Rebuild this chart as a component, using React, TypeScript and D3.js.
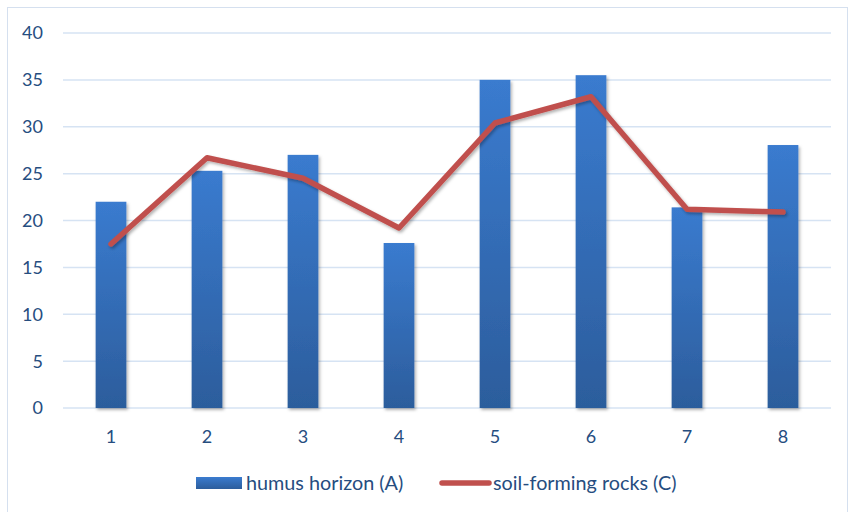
import React from "react";
import * as d3 from "d3";

const categories = ["1", "2", "3", "4", "5", "6", "7", "8"];
const humusValues = [22.0, 25.3, 27.0, 17.6, 35.0, 35.5, 21.4, 28.05];
const rockValues = [17.5, 26.7, 24.5, 19.2, 30.4, 33.2, 21.2, 20.9];
const yTicks = [0, 5, 10, 15, 20, 25, 30, 35, 40];
const seriesNames = ["humus horizon (A)", "soil-forming rocks (C)"];

const W = 848;
const H = 512;
const FONT = "Lato, 'Open Sans', sans-serif";
const TEXT_COLOR = "#264d7f";

export default function App() {
  const x = d3.scaleBand<string>().domain(categories).range([63, 831]).paddingInner(0.68).paddingOuter(0.34);
  const y = d3.scaleLinear().domain([0, 40]).range([408, 33]);
  const line = d3
    .line<number>()
    .x((_, i) => (x(categories[i]) as number) + x.bandwidth() / 2)
    .y((d) => y(d));

  return (
    <svg width={W} height={H} style={{ position: "absolute", left: 0, top: 0, background: "#fff" }}>
      <defs>
        <linearGradient id="barGrad" x1="0" y1="0" x2="0" y2="1">
          <stop offset="0%" stopColor="#3a7bcf" />
          <stop offset="100%" stopColor="#2c5d9c" />
        </linearGradient>
        <filter id="shadow" x="-30%" y="-10%" width="160%" height="130%">
          <feDropShadow dx="1.5" dy="2" stdDeviation="1.8" floodColor="#000" floodOpacity="0.3" />
        </filter>
      </defs>
      <rect x={7.5} y={7.5} width={840} height={510} fill="#fff" stroke="#d5e0ef" strokeWidth={1} />
      {yTicks.map((t) => (
        <g key={t}>
          <line x1={63} x2={831} y1={y(t)} y2={y(t)} stroke="#d6e3f3" strokeWidth={1.5} />
          <text x={43} y={y(t)} dy="0.36em" textAnchor="end" fontFamily={FONT} fontSize={18} fill={TEXT_COLOR}>
            {t}
          </text>
        </g>
      ))}
      {humusValues.map((v, i) => (
        <rect
          key={i}
          x={x(categories[i])}
          y={y(v)}
          width={x.bandwidth()}
          height={y(0) - y(v)}
          fill="url(#barGrad)"
          filter="url(#shadow)"
        />
      ))}
      <path
        d={line(rockValues) || ""}
        fill="none"
        stroke="#c0504d"
        strokeWidth={5.5}
        strokeLinejoin="round"
        strokeLinecap="round"
        filter="url(#shadow)"
      />
      {categories.map((c) => (
        <text
          key={c}
          x={(x(c) as number) + x.bandwidth() / 2}
          y={437}
          dy="0.36em"
          textAnchor="middle"
          fontFamily={FONT}
          fontSize={18}
          fill={TEXT_COLOR}
        >
          {c}
        </text>
      ))}
      <g>
        <rect x={196} y={477} width={46} height={12} fill="url(#barGrad)" />
        <text x={246} y={483} dy="0.36em" fontFamily={FONT} fontSize={19.8} fill={TEXT_COLOR}>
          {seriesNames[0]}
        </text>
        <line x1={442} x2={489} y1={483} y2={483} stroke="#c0504d" strokeWidth={5.5} strokeLinecap="round" />
        <text x={493} y={483} dy="0.36em" fontFamily={FONT} fontSize={19.8} fill={TEXT_COLOR}>
          {seriesNames[1]}
        </text>
      </g>
    </svg>
  );
}
